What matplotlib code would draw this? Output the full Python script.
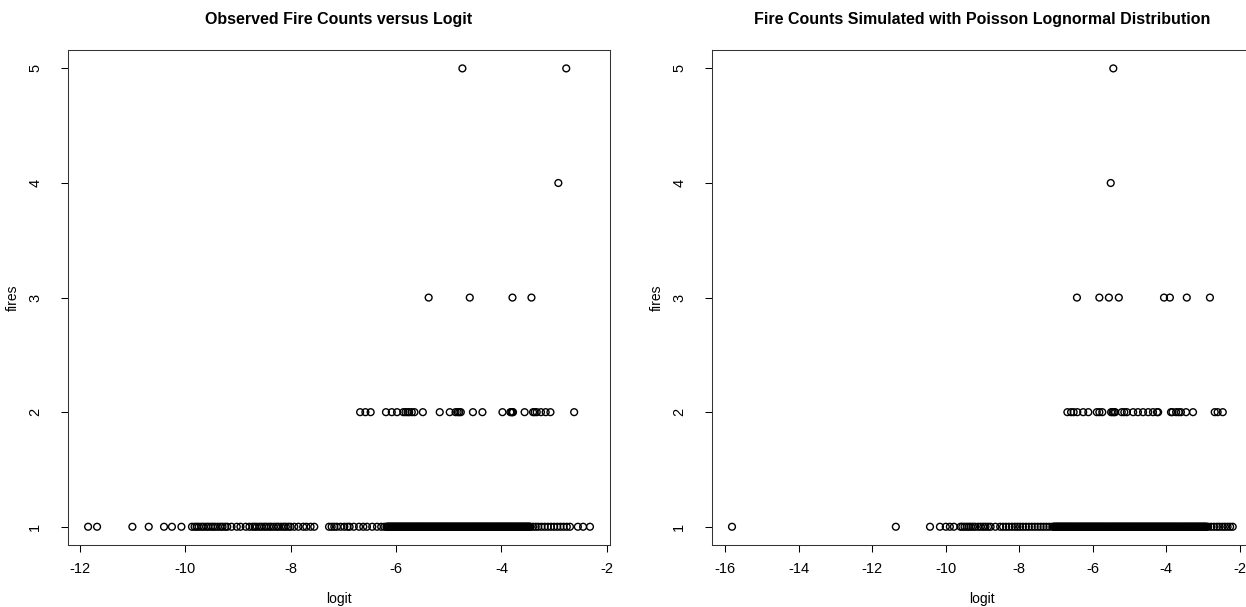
import numpy as np
import matplotlib
matplotlib.use("Agg")
import matplotlib.pyplot as plt

plt.rcParams['font.family'] = ['Liberation Sans', 'DejaVu Sans']
plt.rcParams['axes.unicode_minus'] = False

# observed fire counts: logit values for each count
obs_1 = [-11.84, -11.67, -11.00, -10.69, -10.40, -10.25, -10.07,
         -9.87, -9.82, -9.78, -9.74, -9.69, -9.65, -9.60, -9.56, -9.51, -9.47,
         -9.43, -9.38, -9.33, -9.29, -9.24, -9.20,
         -9.12, -9.02, -8.95, -8.85, -8.78, -8.72,
         -8.68, -8.64, -8.59, -8.55, -8.50, -8.46, -8.41, -8.37, -8.32, -8.27,
         -8.23, -8.18, -8.13, -8.09, -8.04, -8.00,
         -7.93, -7.85, -7.76, -7.70, -7.62, -7.55,
         -7.27, -7.22, -7.17, -7.12, -7.05, -6.98, -6.92, -6.88,
         -6.80, -6.70, -6.62, -6.55, -6.45, -6.36, -6.28, -6.22,
         -6.18, -6.15, -6.13, -6.10, -6.08, -6.05, -6.03, -6.00, -5.98, -5.95,
         -5.93, -5.90, -5.88, -5.85, -5.83, -5.80, -5.78, -5.75, -5.73, -5.70,
         -5.68, -5.65, -5.63, -5.60, -5.58, -5.55, -5.53, -5.50, -5.48, -5.45,
         -5.43, -5.40, -5.38, -5.35, -5.33, -5.30, -5.28, -5.25, -5.23, -5.20,
         -5.18, -5.15, -5.13, -5.10, -5.08, -5.05, -5.03, -5.00, -4.98, -4.95,
         -4.93, -4.90, -4.88, -4.85, -4.83, -4.80, -4.78, -4.75, -4.73, -4.70,
         -4.68, -4.65, -4.63, -4.60, -4.58, -4.55, -4.53, -4.50, -4.48, -4.45,
         -4.43, -4.40, -4.38, -4.35, -4.33, -4.30, -4.28, -4.25, -4.23, -4.20,
         -4.18, -4.15, -4.13, -4.10, -4.08, -4.05, -4.03, -4.00, -3.98, -3.95,
         -3.93, -3.90, -3.88, -3.85, -3.83, -3.80, -3.78, -3.75, -3.73, -3.70,
         -3.68, -3.65, -3.63, -3.60, -3.58, -3.55, -3.53, -3.50, -3.48, -3.45,
         -3.40, -3.35, -3.30, -3.24, -3.18, -3.12, -3.06, -3.00, -2.94, -2.88,
         -2.82, -2.76, -2.70, -2.55, -2.45, -2.32]
# more ones inside the solid black stretch of the bottom row
obs_1_dense = [-6.17, -6.14, -6.11, -6.09, -6.06, -6.04, -6.01,
               -5.99, -5.96, -5.94, -5.91, -5.89, -5.86, -5.84, -5.81,
               -5.79, -5.76, -5.74, -5.71, -5.69, -5.66, -5.64, -5.61,
               -5.59, -5.56, -5.54, -5.51, -5.49, -5.46, -5.44, -5.41,
               -5.39, -5.36, -5.34, -5.31, -5.29, -5.26, -5.24, -5.21,
               -5.19, -5.16, -5.14, -5.11, -5.09, -5.06, -5.04, -5.01,
               -4.99, -4.96, -4.94, -4.91, -4.89, -4.86, -4.84, -4.81,
               -4.79, -4.76, -4.74, -4.71, -4.69, -4.66, -4.64, -4.61,
               -4.59, -4.56, -4.54, -4.51, -4.49, -4.46, -4.44, -4.41,
               -4.39, -4.36, -4.34, -4.31, -4.29, -4.26, -4.24, -4.21,
               -4.19, -4.16, -4.14, -4.11, -4.09, -4.06, -4.04, -4.01,
               -3.99, -3.96, -3.94, -3.91, -3.89, -3.86, -3.84, -3.81,
               -3.79, -3.76, -3.74, -3.71, -3.69, -3.66, -3.64, -3.61,
               -3.59, -3.56, -3.54, -3.51, -3.49, -3.46]
obs_2 = [-6.68, -6.58, -6.48, -6.19, -6.08, -5.98, -5.86, -5.82, -5.78, -5.75,
         -5.70, -5.65, -5.49, -5.17, -4.98, -4.87, -4.83, -4.80, -4.77, -4.54,
         -4.36, -3.98, -3.83, -3.81, -3.79, -3.78, -3.56, -3.40, -3.37, -3.33,
         -3.25, -3.16, -3.07, -2.62]
obs_3 = [-5.38, -4.60, -3.79, -3.43]
obs_4 = [-2.92]
obs_5 = [-4.74, -2.77]

# simulated (Poisson lognormal) fire counts
sim_1 = [-15.82, -11.36, -10.43, -10.16, -10.00, -9.89, -9.78,
         -9.60, -9.55, -9.49, -9.43, -9.37, -9.32, -9.26, -9.20, -9.12, -9.05,
         -8.98, -8.92, -8.85, -8.78,
         -8.65, -8.52, -8.44, -8.36, -8.28, -8.20, -8.12, -8.05, -7.98, -7.90,
         -7.82, -7.74, -7.66, -7.58, -7.50, -7.42, -7.34, -7.26, -7.18, -7.10,
         -7.06, -7.02, -6.98, -6.94, -6.90, -6.86, -6.82, -6.78, -6.74, -6.70,
         -6.66, -6.62, -6.58, -6.54, -6.50, -6.46, -6.42, -6.38, -6.34, -6.30,
         -6.26, -6.22, -6.18, -6.14, -6.10, -6.06, -6.02, -5.98, -5.94, -5.90,
         -5.86, -5.82, -5.78, -5.74, -5.70, -5.66, -5.62, -5.58, -5.54, -5.50,
         -5.46, -5.42, -5.38, -5.34, -5.30, -5.26, -5.22, -5.18, -5.14, -5.10,
         -5.06, -5.02, -4.98, -4.94, -4.90, -4.86, -4.82, -4.78, -4.74, -4.70,
         -4.66, -4.62, -4.58, -4.54, -4.50, -4.46, -4.42, -4.38, -4.34, -4.30,
         -4.26, -4.22, -4.18, -4.14, -4.10, -4.06, -4.02, -3.98, -3.94, -3.90,
         -3.86, -3.82, -3.78, -3.74, -3.70, -3.66, -3.62, -3.58, -3.54, -3.50,
         -3.46, -3.42, -3.38, -3.34, -3.30, -3.26, -3.22, -3.18, -3.14, -3.10,
         -3.06, -3.02, -2.98, -2.94, -2.90,
         -2.86, -2.78, -2.70, -2.62, -2.55, -2.47, -2.40, -2.33, -2.26, -2.19]
sim_1_dense = [-7.04, -7.00, -6.96, -6.92, -6.88, -6.84, -6.80, -6.76,
               -6.72, -6.68, -6.64, -6.60, -6.56, -6.52, -6.48, -6.44,
               -6.40, -6.36, -6.32, -6.28, -6.24, -6.20, -6.16, -6.12,
               -6.08, -6.04, -6.00, -5.96, -5.92, -5.88, -5.84, -5.80,
               -5.76, -5.72, -5.68, -5.64, -5.60, -5.56, -5.52, -5.48,
               -5.44, -5.40, -5.36, -5.32, -5.28, -5.24, -5.20, -5.16,
               -5.12, -5.08, -5.04, -5.00, -4.96, -4.92, -4.88, -4.84,
               -4.80, -4.76, -4.72, -4.68, -4.64, -4.60, -4.56, -4.52,
               -4.48, -4.44, -4.40, -4.36, -4.32, -4.28, -4.24, -4.20,
               -4.16, -4.12, -4.08, -4.04, -4.00, -3.96, -3.92, -3.88,
               -3.84, -3.80, -3.76, -3.72, -3.68, -3.64, -3.60, -3.56,
               -3.52, -3.48, -3.44, -3.40, -3.36, -3.32, -3.28, -3.24,
               -3.20, -3.16, -3.12, -3.08, -3.04, -3.00, -2.96, -2.92]
sim_2 = [-6.69, -6.59, -6.52, -6.42, -6.26, -6.12, -5.89, -5.82, -5.74,
         -5.50, -5.46, -5.42, -5.39, -5.21, -5.14, -5.07, -4.90, -4.77, -4.63,
         -4.49, -4.36, -4.25, -4.22, -3.87, -3.83, -3.73, -3.66, -3.60, -3.46,
         -3.27, -2.68, -2.60, -2.46]
sim_3 = [-6.43, -5.82, -5.56, -5.29, -4.06, -3.90, -3.44, -2.81]
sim_4 = [-5.51]
sim_5 = [-5.44]

obs = [obs_1 + obs_1_dense, obs_2, obs_3, obs_4, obs_5]
sim = [sim_1 + sim_1_dense, sim_2, sim_3, sim_4, sim_5]

fig = plt.figure(figsize=(12.46, 6.07), dpi=100)
ax1 = fig.add_axes([0.0546, 0.102, 0.435, 0.8155])
ax2 = fig.add_axes([0.5714, 0.102, 0.434, 0.8155])


def draw(ax, groups, title, xticks):
    xs, ys = [], []
    for k, vals in enumerate(groups):
        xs += vals
        ys += [k + 1] * len(vals)
    xs = np.array(xs)
    ys = np.array(ys)
    ax.scatter(xs, ys, s=24, facecolors='none', edgecolors='black',
               linewidths=1.0)
    pad = 0.04 * (xs.max() - xs.min())
    ax.set_xlim(xs.min() - pad, xs.max() + pad)
    ax.set_ylim(1 - 0.16, 5 + 0.16)
    ax.set_xticks(xticks)
    ax.set_yticks([1, 2, 3, 4, 5])
    ax.tick_params(direction='out', length=5, width=0.75, labelsize=10.5,
                   colors='black')
    ax.tick_params(axis='x', pad=7)
    ax.tick_params(axis='y', pad=13.5, labelrotation=90)
    for lab in ax.get_yticklabels():
        lab.set_va('center')
    for s in ax.spines.values():
        s.set_linewidth(0.75)
        s.set_color('#333333')
    ax.set_title(title, fontsize=11.5, fontweight='bold', pad=19)
    ax.set_xlabel('logit', fontsize=10, labelpad=12)
    ax.set_ylabel('fires', fontsize=10, labelpad=6)


draw(ax1, obs, 'Observed Fire Counts versus Logit', [-12, -10, -8, -6, -4, -2])
draw(ax2, sim, 'Fire Counts Simulated with Poisson Lognormal Distribution',
     [-16, -14, -12, -10, -8, -6, -4, -2])

fig.savefig('out.png', dpi=100)
